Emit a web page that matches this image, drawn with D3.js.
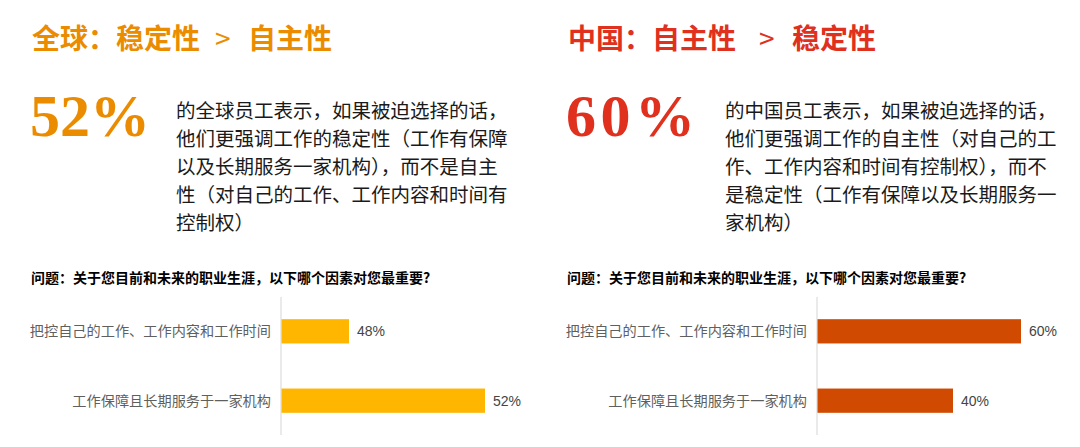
<!DOCTYPE html>
<html>
<head>
<meta charset="utf-8">
<script src="https://cdn.jsdelivr.net/npm/d3@7"></script>
<style>
  body { margin: 0; background: #ffffff; }
</style>
</head>
<body>
<div id="chartDIV"></div>
<script>

// data
var categories = ["把控自己的工作、工作内容和工作时间", "工作保障且长期服务于一家机构"]
var globalValues = [48, 52]
var chinaValues = [60, 40]
var globalDomain = [46, 52]
var chinaDomain = [0, 60]

var globalTitle = ["全球：稳定性", ">", "自主性"]
var chinaTitle = ["中国：自主性", ">", "稳定性"]
var globalBig = "52%"
var chinaBig = "60%"

var globalText = [
  "的全球员工表示，如果被迫选择的话，",
  "他们更强调工作的稳定性（工作有保障",
  "以及长期服务一家机构），而不是自主",
  "性（对自己的工作、工作内容和时间有",
  "控制权）"
]
var chinaText = [
  "的中国员工表示，如果被迫选择的话，",
  "他们更强调工作的自主性（对自己的工",
  "作、工作内容和时间有控制权），而不",
  "是稳定性（工作有保障以及长期服务一",
  "家机构）"
]
var question = "问题：关于您目前和未来的职业生涯，以下哪个因素对您最重要?"

var cjk = "'Noto Sans CJK SC', 'Noto Sans', sans-serif"

var svg = d3.select("#chartDIV").append("svg")
  .attr("width", 1080)
  .attr("height", 447)
  .style("font-family", cjk)

function makePanel(opt)
{
  var g = svg.append("g").attr("transform", "translate(" + opt.left + ",0)")

  // headline
  var title = g.append("text")
    .attr("y", 49)
    .attr("fill", opt.titleColor)
    .attr("font-size", 28)
  title.append("tspan").attr("x", 2).attr("font-weight", "bold").text(opt.title[0])
  title.append("tspan").attr("x", opt.gtX).attr("font-weight", "normal").text(opt.title[1])
  title.append("tspan").attr("x", opt.gtX + 33).attr("font-weight", "bold").text(opt.title[2])

  // big number
  g.append("text")
    .attr("x", 0)
    .attr("y", 136)
    .attr("fill", opt.titleColor)
    .style("font-family", "'Liberation Serif', 'DejaVu Serif', serif")
    .attr("font-weight", "bold")
    .attr("font-size", 60)
    .attr("textLength", opt.bigWidth)
    .attr("lengthAdjust", "spacing")
    .text(opt.big)

  // paragraph
  g.append("g").selectAll("text")
    .data(opt.para)
    .enter()
    .append("text")
    .attr("x", opt.paraX)
    .attr("y", function(d, i) { return 118 + i * 28 })
    .attr("font-size", 19.5)
    .attr("fill", "#1a1a1a")
    .text(function(d) { return d })

  // question
  g.append("text")
    .attr("x", 1)
    .attr("y", 283)
    .attr("font-size", 14)
    .attr("font-weight", "bold")
    .attr("fill", "#000")
    .text(question)

  var x = d3.scaleLinear().domain(opt.domain).range([opt.axisX, opt.axisX + 204])
  var y = d3.scaleBand().domain(categories).range([297, 435]).paddingInner(0.65).paddingOuter(0.32)

  var rows = categories.map(function(c, i) { return { cat: c, val: opt.values[i] } })

  g.append("line")
    .attr("x1", opt.axisX).attr("x2", opt.axisX)
    .attr("y1", 297).attr("y2", 435)
    .attr("stroke", "#dcdcdc")
    .attr("stroke-width", 1.2)

  g.selectAll("rect.bar")
    .data(rows)
    .enter()
    .append("rect")
    .attr("class", "bar")
    .attr("x", opt.axisX + 0.5)
    .attr("y", function(d) { return y(d.cat) })
    .attr("width", function(d) { return x(d.val) - opt.axisX - 0.5 })
    .attr("height", y.bandwidth())
    .attr("fill", opt.barColor)

  g.selectAll("text.cat")
    .data(rows)
    .enter()
    .append("text")
    .attr("class", "cat")
    .attr("x", opt.axisX - 10)
    .attr("y", function(d) { return y(d.cat) + y.bandwidth() / 2 })
    .attr("dy", "0.35em")
    .attr("text-anchor", "end")
    .attr("font-size", 14.2)
    .attr("fill", "#5f5f5f")
    .text(function(d) { return d.cat })

  g.selectAll("text.val")
    .data(rows)
    .enter()
    .append("text")
    .attr("class", "val")
    .attr("x", function(d) { return x(d.val) + 8 })
    .attr("y", function(d) { return y(d.cat) + y.bandwidth() / 2 })
    .attr("dy", "0.36em")
    .style("font-family", "'Liberation Sans', Arial, sans-serif")
    .attr("font-size", 14)
    .attr("fill", "#444")
    .text(function(d) { return d.val + "%" })
}

makePanel({
  left: 30, title: globalTitle, titleColor: "#eb8c00", gtX: 185,
  big: globalBig, bigWidth: 120, para: globalText, paraX: 146,
  axisX: 251, domain: globalDomain, values: globalValues, barColor: "#ffb600"
})

makePanel({
  left: 566, title: chinaTitle, titleColor: "#e0301e", gtX: 193,
  big: chinaBig, bigWidth: 129, para: chinaText, paraX: 159,
  axisX: 251, domain: chinaDomain, values: chinaValues, barColor: "#d04a02"
})

</script>
</body>
</html>
